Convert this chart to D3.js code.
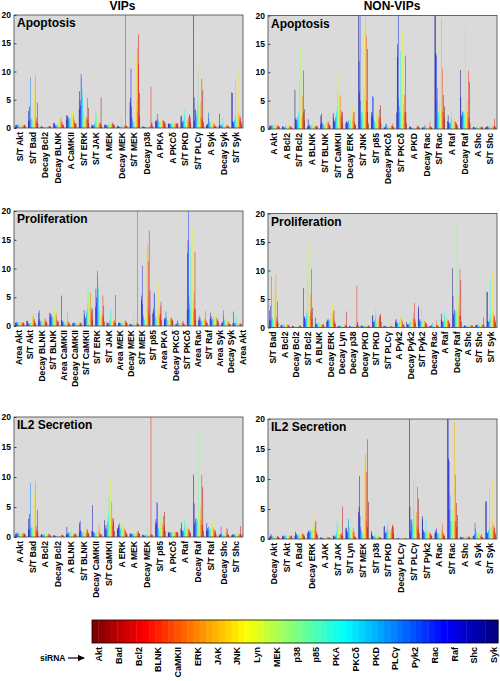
<!DOCTYPE html>
<html><head><meta charset="utf-8">
<script src="https://cdn.jsdelivr.net/npm/d3@7"></script>
<style>
body{margin:0;background:#fff;}
text{font-family:"Liberation Sans",Arial,sans-serif;font-weight:bold;fill:#000;}
</style>
</head><body><svg id="c" width="500" height="681"></svg>
<script>
// siRNA list (colour bar order, left to right)
const siRNA = ["Akt","Bad","Bcl2","BLNK","CaMKII","ERK","JAK","JNK","Lyn","MEK","p38","p85","PKA","PKCδ","PKD","PLCγ","Pyk2","Rac","Raf","Shc","Syk"];
// bars inside each group are drawn Syk ... Akt (left to right); every feature array below is in that order
const barOrder = siRNA.slice().reverse();
const yTicks = [0,5,10,15,20];

// feature values per siRNA (Syk -> Akt)
const ST_Akt      = [0.4,0.6,0.5,0.3,0.5,0.6,0.4,0.5,0.6,0.4,0.5,0.6,0.5,0.4,0.6,0.5,0.3,0.4,0.5,0.6,0.4];
const ST_Bad      = [1.3,3.0,3.8,1.2,1.5,9.0,1.5,1.8,1.5,1.2,1.5,5.3,1.0,7.4,1.2,9.3,1.0,1.8,1.2,4.5,0.8];
const Decay_Bcl2  = [0.3,0.3,0.2,0.2,0.1,0.1,0.1,0.1,0.1,0.1,0.1,0.1,0.1,0.1,0.2,0.2,0.3,0.4,0.3,0.3,0.2];
const Decay_BLNK  = [0.9,0.8,0.9,0.5,0.4,0.5,0.4,0.5,0.6,0.5,0.7,0.9,1.1,1.8,1.5,1.9,1.0,1.2,0.8,0.6,0.5];
const A_CaMKII    = [2.3,1.5,2.2,1.8,2.0,1.2,1.6,1.5,1.2,1.8,2.5,3.2,3.0,2.6,2.2,2.3,1.5,1.0,0.8,0.9,0.7];
const ST_ERK      = [3.3,6.5,5.0,4.0,9.6,8.9,6.8,5.5,3.0,2.5,2.0,1.8,2.2,1.5,1.8,1.5,2.0,5.3,1.5,3.5,0.8];
const ST_JAK      = [0.6,0.5,0.4,0.3,0.5,0.6,0.8,1.2,3.0,2.0,2.6,1.8,1.5,0.9,0.8,0.6,0.8,1.0,0.7,5.4,0.5];
const A_MEK       = [0.6,0.5,0.6,0.5,0.4,0.5,0.6,0.5,0.6,0.7,0.8,0.9,0.8,0.7,0.8,0.6,0.9,1.0,0.7,0.6,0.5];
const Decay_MEK   = [0.4,0.3,0.3,0.2,0.2,0.3,0.2,0.3,0.5,1.9,0.3,0.2,0.3,0.2,0.3,0.4,0.5,25,0.4,0.4,0.3];
const ST_MEK      = [4.5,5.3,10.5,3.8,2.0,1.5,1.2,1.0,0.8,0.6,0.8,1.5,2.0,13.2,5.0,14.2,3.0,11.2,16.6,2.0,6.2];
const Decay_p38   = [0.3,0.2,0.2,0.2,0.1,0.1,0.1,0.2,0.2,0.1,0.2,0.1,0.2,0.3,0.5,0.3,0.4,7.3,0.8,1.0,0.4];
const A_PKA       = [1.3,1.2,1.0,1.5,2.5,1.5,1.2,1.0,1.1,1.0,0.9,1.2,1.5,1.6,1.4,1.3,1.5,1.3,1.2,1.0,0.8];
const A_PKCd      = [0.8,0.7,0.8,0.7,0.6,0.7,0.8,0.9,0.8,0.7,0.8,0.9,0.9,0.8,0.9,0.8,0.7,0.8,0.9,0.8,0.7];
const ST_PKD      = [2.0,2.2,0.9,1.0,1.2,1.1,1.5,2.0,3.2,1.2,1.0,0.8,0.9,1.0,1.5,1.2,1.8,2.2,2.4,2.0,1.0];
const ST_PLCg     = [25,5.4,1.3,3.2,3.3,2.5,2.0,3.0,5.0,10.1,4.0,3.0,16.6,11.3,2.0,4.5,2.0,8.7,1.5,6.7,1.0];
const A_Syk       = [0.5,0.4,0.6,0.8,2.7,1.8,1.2,1.0,0.9,0.8,1.0,1.1,1.0,1.3,0.8,0.6,0.5,0.8,0.4,0.3,0.3];
const Decay_Syk   = [0.5,2.5,0.4,0.3,0.5,0.6,0.5,0.8,2.0,0.5,0.4,0.3,0.3,0.3,0.4,0.5,0.3,0.4,0.5,0.3,0.2];
const ST_Syk      = [6.3,6.2,1.2,1.0,1.0,1.2,1.5,2.3,8.5,1.8,1.5,2.0,1.5,10.0,3.0,2.4,1.5,2.1,1.8,1.2,0.8];
const A_Akt       = [0.5,0.6,0.4,0.7,0.6,0.5,0.7,0.5,0.6,0.4,0.6,0.7,0.5,0.6,0.5,0.7,0.4,0.6,0.5,0.6,0.4];
const A_Bcl2      = [0.3,0.5,0.4,0.3,0.2,0.3,0.5,0.6,0.4,0.3,0.4,0.5,0.7,0.6,0.5,0.6,0.4,0.5,0.4,0.3,0.2];
const ST_Bcl2     = [6.9,1.7,2.0,1.6,1.0,1.5,2.0,2.5,3.0,8.4,2.5,14.8,2.0,1.8,2.0,5.8,2.5,3.0,10.3,1.5,3.5];
const A_BLNK      = [0.5,1.7,0.5,0.6,0.8,0.5,0.4,0.6,0.7,0.8,1.0,1.2,0.7,0.5,0.6,0.5,0.4,0.5,0.6,0.5,0.4];
const ST_BLNK     = [0.8,2.3,2.7,1.2,1.0,0.8,0.7,0.6,0.8,0.7,1.0,0.9,0.8,1.0,0.7,1.3,0.8,1.3,0.9,0.7,0.5];
const ST_CaMKII   = [2.8,2.0,1.2,1.5,1.3,2.0,2.5,3.0,4.0,6.9,6.2,4.0,9.8,3.0,5.6,5.9,2.0,3.2,2.5,3.0,1.0];
const Decay_ERK   = [1.0,1.2,1.4,1.0,1.2,1.5,1.3,1.0,1.2,1.5,2.0,2.5,5.0,4.2,2.0,1.5,2.9,3.0,1.2,0.8,0.7];
const ST_JNK      = [25,12.0,6.6,25,5.0,3.0,2.0,2.5,3.0,5.0,7.1,7.3,18.2,5.0,25,3.0,16.5,5.0,14.1,3.0,1.0];
const ST_p85      = [2.2,3.0,2.5,5.8,5.6,2.0,1.5,1.2,1.0,1.0,1.5,3.3,2.0,7.6,2.5,2.0,1.5,3.5,2.0,4.2,1.0];
const Decay_PKCd  = [0.3,0.2,0.3,0.5,0.9,1.0,0.6,0.4,0.5,0.3,0.4,0.3,0.5,0.4,0.6,0.5,0.6,0.9,0.5,0.4,0.3];
const ST_PKCd     = [2.9,12.7,14.9,25,5.3,3.0,4.0,3.0,13.8,3.0,11.8,4.5,17.3,2.0,4.5,2.5,6.0,3.0,12.9,3.0,1.0];
const A_PKD       = [0.3,0.5,0.4,0.3,0.2,0.2,0.2,0.3,0.2,0.2,0.2,0.1,0.2,0.2,0.3,0.4,0.3,0.6,0.5,0.4,0.3];
const Decay_Rac   = [0.3,0.2,0.3,0.2,0.5,0.3,0.8,0.2,0.3,0.2,0.3,0.2,0.2,0.3,0.5,0.4,1.3,0.5,0.4,0.3,0.2];
const ST_Rac      = [25,25,13.4,13.0,5.0,7.3,3.0,2.5,3.0,4.0,5.0,3.0,4.0,25,19.5,3.0,10.7,3.0,6.0,2.0,4.0];
const A_Raf       = [1.4,2.4,1.2,1.0,0.8,1.0,1.2,2.0,3.0,1.5,1.2,1.5,1.3,1.5,1.7,1.3,1.2,1.3,1.0,0.8,0.6];
const Decay_Raf   = [10.4,5.6,2.2,2.5,3.0,3.2,2.5,3.0,2.8,2.5,18.0,3.0,2.8,3.5,5.2,3.0,2.0,10.3,2.0,8.3,1.0];
const A_Shc       = [0.3,0.4,0.3,0.2,0.3,0.2,0.3,0.4,0.3,0.2,0.3,0.4,0.3,0.4,0.5,0.4,0.3,0.4,0.3,0.4,0.2];
const ST_Shc      = [0.3,0.4,0.3,0.5,0.5,0.4,0.3,0.5,0.4,0.3,0.4,0.5,0.4,0.5,0.4,0.5,0.4,0.5,1.8,0.5,0.3];
const Decay_CaMKII= [1.0,5.3,1.0,0.8,0.7,0.6,0.8,0.6,0.5,0.6,0.7,0.8,0.6,0.9,1.0,2.3,0.8,0.6,0.5,0.4,0.3];
const A_Rac       = [1.0,1.4,1.0,1.8,1.2,0.9,0.8,0.7,0.9,1.0,0.8,1.0,0.9,1.2,1.5,1.3,2.6,1.0,0.8,0.6,0.5];
const ST_Raf      = [1.2,2.3,1.5,1.0,1.7,1.2,1.0,1.3,1.5,1.2,2.0,2.6,2.7,1.8,1.5,1.6,1.2,1.0,1.2,0.8,0.5];
const Decay_Lyn   = [0.3,0.2,0.3,0.2,0.2,0.3,0.2,0.2,0.3,0.2,0.3,0.2,0.3,0.2,0.3,0.5,0.4,0.3,0.5,2.8,0.3];
const Decay_PKD   = [0.3,0.4,0.2,0.3,0.2,0.3,0.2,0.3,0.2,0.3,0.4,0.3,0.2,0.3,0.4,0.3,0.2,0.3,0.4,0.2,0.2];
const ST_PLCg_P   = [0.3,0.2,0.2,0.3,0.2,0.2,0.1,0.2,0.2,0.3,0.2,0.2,0.3,0.2,0.2,0.3,0.2,0.3,0.2,0.2,0.1];
const A_Pyk2      = [1.2,0.8,1.5,0.8,0.9,0.7,0.6,0.8,0.9,1.0,1.2,1.9,1.5,2.2,1.8,1.5,1.2,0.8,0.6,0.5,0.4];
const Decay_Pyk2  = [1.0,0.6,0.5,0.4,0.5,0.6,0.8,1.0,1.2,0.8,0.9,1.0,1.2,1.5,1.8,2.6,1.5,1.2,4.3,1.5,0.8];
const ST_Pyk2     = [3.8,3.3,1.2,1.5,1.0,1.2,1.0,1.3,3.4,1.2,1.0,1.0,0.9,1.0,1.2,1.0,0.8,1.0,0.8,0.6,0.5];
const A_ERK       = [1.2,1.5,1.7,2.0,2.3,1.5,1.3,1.2,1.5,1.8,2.0,2.5,1.8,1.5,1.3,1.5,1.2,1.0,0.8,0.6,0.5];
const Decay_Shc   = [0.3,0.4,0.3,0.5,1.7,0.6,0.5,0.4,0.3,0.4,0.5,0.3,0.4,0.5,0.6,0.8,1.6,1.3,0.5,0.4,0.3];
const Decay_Akt   = [0.3,0.5,0.4,0.8,0.6,0.5,0.4,0.3,0.5,0.4,0.3,0.4,0.5,0.4,0.3,0.4,0.6,0.5,0.4,0.3,0.2];
const A_Bad       = [0.5,1.2,0.8,0.7,0.9,0.6,0.5,0.6,0.7,0.8,0.9,1.0,0.8,0.7,0.8,0.9,1.0,0.8,0.7,0.6,0.4];
const A_JAK       = [0.2,0.3,0.2,0.2,0.1,0.2,0.1,0.2,0.1,0.1,0.2,0.1,0.2,0.3,0.6,0.4,0.3,0.2,0.3,0.2,0.1];
const ST_Lyn      = [1.8,1.9,1.5,1.2,1.0,3.3,3.1,2.0,1.5,1.2,1.8,4.1,2.0,1.5,1.2,1.0,1.8,1.2,0.5,0.4,0.3];
const ST_p38      = [1.3,0.9,0.6,0.5,0.4,0.3,0.4,0.5,0.6,0.7,0.8,1.0,0.6,0.5,0.4,0.3,0.4,0.3,0.3,0.2,0.2];
const Decay_PLCg  = [0.1,0.1,0.1,0.1,0.1,0.1,0.1,0.1,0.1,0.1,0.1,0.1,0.1,0.1,0.1,0.1,0.1,0.1,0.1,0.1,0.1];

// panels: tick labels + groups
const apoVipLabels = ["S/T Akt","S/T Bad","Decay Bcl2","Decay BLNK","A CaMKII","S/T ERK","S/T JAK","A MEK","Decay MEK","S/T MEK","Decay p38","A PKA","A PKCδ","S/T PKD","S/T PLCγ","A Syk","Decay Syk","S/T Syk"];
const apoVipValues = [ST_Akt,ST_Bad,Decay_Bcl2,Decay_BLNK,A_CaMKII,ST_ERK,ST_JAK,A_MEK,Decay_MEK,ST_MEK,Decay_p38,A_PKA,A_PKCd,ST_PKD,ST_PLCg,A_Syk,Decay_Syk,ST_Syk];
const apoNonLabels = ["A Akt","A Bcl2","S/T Bcl2","A BLNK","S/T BLNK","S/T CaMKII","Decay ERK","S/T JNK","S/T p85","Decay PKCδ","S/T PKCδ","A PKD","Decay Rac","S/T Rac","A Raf","Decay Raf","A Shc","S/T Shc"];
const apoNonValues = [A_Akt,A_Bcl2,ST_Bcl2,A_BLNK,ST_BLNK,ST_CaMKII,Decay_ERK,ST_JNK,ST_p85,Decay_PKCd,ST_PKCd,A_PKD,Decay_Rac,ST_Rac,A_Raf,Decay_Raf,A_Shc,ST_Shc];
const proVipLabels = ["Area Akt","S/T Akt","Decay BLNK","S/T BLNK","Area CaMKII","Decay CaMKII","S/T CaMKII","S/T ERK","S/T JAK","Area MEK","Decay MEK","S/T MEK","S/T p85","Area PKA","Decay PKCδ","S/T PKCδ","Area Rac","S/T Raf","Area Syk","Decay Syk","Area Akt"];
const proVipValues = [A_Akt,Decay_BLNK,ST_BLNK,A_CaMKII,Decay_CaMKII,ST_Akt,ST_CaMKII,ST_ERK,ST_JAK,A_MEK,Decay_MEK,ST_MEK,ST_p85,A_PKA,Decay_PKCd,ST_PKCd,A_Rac,ST_Raf,A_Syk,Decay_Syk];
const proNonLabels = ["S/T Bad","A Bcl2","Decay Bcl2","S/T Bcl2","A BLNK","Decay ERK","Decay Lyn","Decay p38","Decay PKD","S/T PKD","S/T PLCγ","A Pyk2","Decay Pyk2","S/T Pyk2","Decay Rac","A Raf","Decay Raf","A Shc","S/T Shc","S/T Syk"];
const proNonValues = [ST_Bad,A_Bcl2,Decay_Bcl2,ST_Bcl2,A_BLNK,Decay_ERK,Decay_Lyn,Decay_p38,Decay_PKD,ST_PKD,ST_PLCg_P,A_Pyk2,Decay_Pyk2,ST_Pyk2,Decay_Rac,A_Raf,Decay_Raf,A_Shc,ST_Shc,ST_Syk];
const il2VipLabels = ["A Akt","S/T Bad","A Bcl2","Decay Bcl2","A BLNK","S/T BLNK","Decay CaMKII","S/T CaMKII","A ERK","A MEK","Decay MEK","S/T p85","A PKCδ","A Raf","Decay Raf","S/T Raf","Decay Shc","S/T Shc"];
const il2VipValues = [A_Akt,ST_Bad,A_Bcl2,Decay_Bcl2,A_BLNK,ST_BLNK,Decay_CaMKII,ST_CaMKII,A_ERK,A_MEK,Decay_MEK,ST_p85,A_PKCd,A_Raf,Decay_Raf,ST_Raf,Decay_Shc,ST_Shc];
const il2NonLabels = ["Decay Akt","S/T Akt","A Bad","Decay ERK","A JAK","S/T JAK","S/T Lyn","S/T MEK","S/T p38","S/T PKD","Decay PLCγ","S/T PLCγ","S/T Pyk2","A Rac","S/T Rac","A Shc","A Syk","S/T Syk"];
const il2NonValues = [Decay_Akt,ST_Akt,A_Bad,Decay_ERK,A_JAK,ST_JAK,ST_Lyn,ST_MEK,ST_p38,ST_PKD,Decay_PLCg,ST_PLCg,ST_Pyk2,A_Rac,ST_Rac,A_Shc,A_Syk,ST_Syk];

// ---------- drawing ----------
const svg = d3.select("#c");
function jet(t){
  const c = v => Math.max(0, Math.min(1, v));
  const r = c(1.5 - Math.abs(4*t - 3)), g = c(1.5 - Math.abs(4*t - 2)), b = c(1.5 - Math.abs(4*t - 1));
  return d3.rgb(r*255, g*255, b*255).toString();
}
const colorOf = d3.scaleOrdinal().domain(barOrder).range(barOrder.map((d,i)=>jet(i/(barOrder.length-1))));

const panels = [
  {title:"Apoptosis", labels:apoVipLabels, values:apoVipValues, x0:14, x1:243, y0:15, y1:128},
  {title:"Apoptosis", labels:apoNonLabels, values:apoNonValues, x0:268, x1:497, y0:15.5, y1:129},
  {title:"Proliferation", labels:proVipLabels, values:proVipValues, x0:14, x1:243, y0:211, y1:326},
  {title:"Proliferation", labels:proNonLabels, values:proNonValues, x0:268, x1:497, y0:213.5, y1:327.5},
  {title:"IL2 Secretion", labels:il2VipLabels, values:il2VipValues, x0:14, x1:243, y0:417, y1:537},
  {title:"IL2 Secretion", labels:il2NonLabels, values:il2NonValues, x0:268, x1:497, y0:419, y1:539}
];

panels.forEach((p, pi) => {
  const g = svg.append("g");
  const n = p.values.length;
  const xg = d3.scaleBand().domain(d3.range(n)).range([p.x0, p.x1]).paddingInner(0.2).paddingOuter(0.1);
  const xi = d3.scaleBand().domain(barOrder).range([0, xg.bandwidth()]);
  const y = d3.scaleLinear().domain([0, 20]).range([p.y1, p.y0]);
  const cid = "clip" + pi;
  g.append("clipPath").attr("id", cid).append("rect")
    .attr("x", p.x0).attr("y", p.y0).attr("width", p.x1 - p.x0).attr("height", p.y1 - p.y0);
  g.append("rect").attr("x", p.x0).attr("y", p.y0).attr("width", p.x1 - p.x0).attr("height", p.y1 - p.y0)
    .attr("fill", "#dadada");
  const bars = g.append("g").attr("clip-path", `url(#${cid})`);
  p.values.forEach((arr, gi) => {
    bars.selectAll(null).data(arr.map((v,k)=>({v, s:barOrder[k]}))).enter().append("rect")
      .attr("x", d => xg(gi) + xi(d.s))
      .attr("width", xi.bandwidth())
      .attr("y", d => y(Math.min(d.v, 21)))
      .attr("height", d => y(0) - y(Math.min(d.v, 21)))
      .attr("fill", d => colorOf(d.s));
  });
  g.append("rect").attr("x", p.x0).attr("y", p.y0).attr("width", p.x1 - p.x0).attr("height", p.y1 - p.y0)
    .attr("fill", "none").attr("stroke", "#444").attr("stroke-width", 0.8);
  const ax = g.append("g").attr("transform", `translate(${p.x0},0)`)
    .call(d3.axisLeft(y).tickValues(yTicks).tickSizeInner(-2.5).tickSizeOuter(0).tickPadding(3));
  ax.select(".domain").remove();
  ax.selectAll("line").attr("stroke", "#444");
  ax.selectAll("text").style("font-size", "8.5px").style("font-family", "Liberation Sans, Arial, sans-serif").style("font-weight", "bold");
  // x tick labels (one panel carries one label more than it has groups)
  const L = p.labels.length;
  const ls = L > n ? (p.x1 - p.x0) / (L - 0.5) : xg.step();
  g.selectAll(null).data(p.labels).enter().append("text")
    .attr("transform", (d,i) => `translate(${p.x0 + ls*(i+0.5)},${p.y1 + 4}) rotate(-90)`)
    .attr("text-anchor", "end").attr("dy", "0.3em")
    .style("font-size", "8.6px")
    .text(d => d);
  g.append("text").attr("x", p.x0 + 3).attr("y", p.y0 + 12).style("font-size", "12px").text(p.title);
});

svg.append("text").attr("x", 122.5).attr("y", 10).attr("text-anchor", "middle").style("font-size", "12px").text("VIPs");
svg.append("text").attr("x", 392).attr("y", 10).attr("text-anchor", "middle").style("font-size", "12px").text("NON-VIPs");

// colour bar
const cbX0 = 92, cbX1 = 498, cbY0 = 620, cbY1 = 643;
const nSteps = 64;
const cbx = d3.scaleLinear().domain([0, nSteps]).range([cbX0, cbX1]);
svg.append("g").selectAll("rect").data(d3.range(nSteps)).enter().append("rect")
  .attr("x", d => cbx(d)).attr("width", cbx(1) - cbx(0) + 0.4)
  .attr("y", cbY0).attr("height", cbY1 - cbY0)
  .attr("fill", d => jet(1 - d/(nSteps-1)));
svg.append("rect").attr("x", cbX0).attr("y", cbY0).attr("width", cbX1 - cbX0).attr("height", cbY1 - cbY0)
  .attr("fill", "none").attr("stroke", "#000").attr("stroke-width", 0.8);
const cbl = d3.scalePoint().domain(siRNA).range([99, 494]);
svg.append("g").selectAll("text").data(siRNA).enter().append("text")
  .attr("transform", d => `translate(${cbl(d)},${cbY1 + 4}) rotate(-90)`)
  .attr("text-anchor", "end").attr("dy", "0.35em").style("font-size", "9px")
  .text(d => d);
svg.append("text").attr("x", 40).attr("y", 661).style("font-size", "8.5px").text("siRNA");
svg.append("defs").append("marker").attr("id", "arr").attr("viewBox", "0 0 10 10").attr("refX", 9).attr("refY", 5)
  .attr("markerWidth", 6).attr("markerHeight", 6).attr("orient", "auto")
  .append("path").attr("d", "M0,0 L10,5 L0,10 z").attr("fill", "#000");
svg.append("line").attr("x1", 68).attr("x2", 84).attr("y1", 658).attr("y2", 658)
  .attr("stroke", "#000").attr("stroke-width", 1.2).attr("marker-end", "url(#arr)");
</script>
</body></html>
